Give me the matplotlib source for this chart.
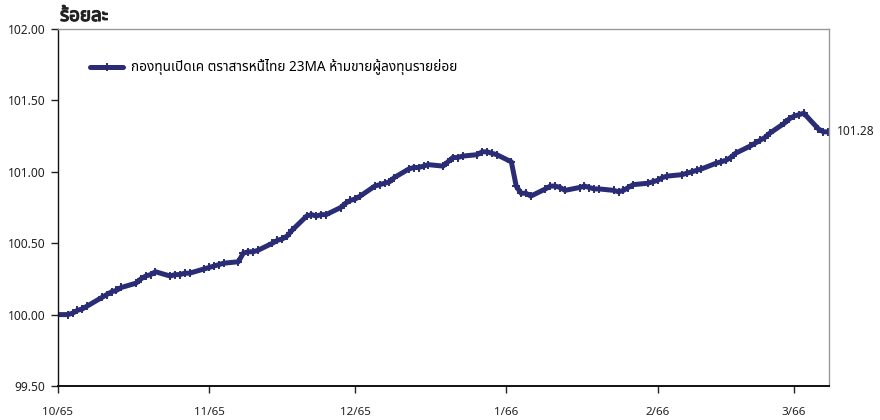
import matplotlib
matplotlib.use("Agg")
import matplotlib.pyplot as plt
import matplotlib.patheffects as pe
from matplotlib import font_manager
from matplotlib.ft2font import FT2Font
import pandas as pd

# ---------------- data ----------------
title_text = "ร้อยละ"
legend_label = "กองทุนเปิดเค ตราสารหนี้ไทย 23MA ห้ามขายผู้ลงทุนรายย่อย"
end_label = "101.28"

sep_vals = [100.00]
oct_vals = [100.00, 100.01, 100.03, 100.04, 100.06,
            100.12, 100.14, 100.16, 100.17, 100.19,
            100.22, 100.25, 100.27, 100.28, 100.30,
            100.27, 100.28, 100.28, 100.29, 100.29,
            100.32]
nov_vals = [100.33, 100.34, 100.35, 100.36,
            100.37, 100.43, 100.44, 100.44, 100.45,
            100.50, 100.52, 100.53, 100.55, 100.59,
            100.69, 100.70, 100.69, 100.70, 100.70,
            100.75, 100.78, 100.80]
dec_vals = [100.81, 100.83,
            100.90, 100.91, 100.92, 100.93, 100.96,
            101.02, 101.03, 101.03, 101.04, 101.05,
            101.04, 101.07, 101.10, 101.10, 101.11,
            101.12, 101.14, 101.14, 101.13, 101.12]
jan_vals = [101.07, 100.90, 100.85, 100.85, 100.83,
            100.88, 100.90, 100.90, 100.89, 100.87,
            100.89, 100.90, 100.89, 100.88, 100.88,
            100.87, 100.86, 100.87, 100.89, 100.91,
            100.92, 100.93]
feb_vals = [100.94, 100.96, 100.97,
            100.98, 100.99, 101.00, 101.01, 101.02,
            101.06, 101.07, 101.08, 101.10, 101.13,
            101.18, 101.20, 101.22, 101.24, 101.27,
            101.34, 101.37]
mar_vals = [101.39, 101.40, 101.41, 101.30, 101.28, 101.28]

month_ranges = [("2022-09-30", "2022-09-30", sep_vals),
                ("2022-10-01", "2022-10-31", oct_vals),
                ("2022-11-01", "2022-11-30", nov_vals),
                ("2022-12-01", "2022-12-31", dec_vals),
                ("2023-01-01", "2023-01-31", jan_vals),
                ("2023-02-01", "2023-02-28", feb_vals),
                ("2023-03-01", "2023-03-08", mar_vals)]

tick_dates = ["2022-10-01", "2022-11-01", "2022-12-01", "2023-01-01", "2023-02-01", "2023-03-01"]
tick_labels = ["10/65", "11/65", "12/65", "1/66", "2/66", "3/66"]
y_ticks = [99.5, 100.0, 100.5, 101.0, 101.5, 102.0]

dates = []
values = []
for s, e, v in month_ranges:
    d = list(pd.bdate_range(s, e))
    assert len(d) == len(v), (s, len(d), len(v))
    dates += d
    values += v

# ---------------- font with Thai glyphs ----------------
def thai_font():
    prefs = ["Tahoma", "Noto Sans Thai", "Noto Sans Thai UI", "Loma", "Garuda", "Sarabun",
             "Norasi", "Kinnari", "Waree", "Umpush", "Laksaman", "Tlwg Typo"]
    found = {}
    for f in font_manager.fontManager.ttflist:
        try:
            cm = FT2Font(f.fname).get_charmap()
            if 0x0E01 in cm and 0x0E49 in cm:
                found.setdefault(f.name, f.fname)
        except Exception:
            pass
    for p in prefs:
        if p in found:
            return p
    if found:
        return sorted(found)[0]
    return None

tf = thai_font()
fam = ([tf] if tf else []) + ["DejaVu Sans"]
plt.rcParams["font.family"] = fam

navy = "#2a2c76"

fig = plt.figure(figsize=(8.8, 4.2), dpi=100)
ax = fig.add_axes([58/880, 34/420, (829-58)/880, (386-29)/420])

ax.plot(dates, values, color=navy, lw=3.6, marker="+", ms=5.5, mew=1.4,
        solid_joinstyle="round", solid_capstyle="round", label=legend_label, clip_on=True)

ax.set_ylim(99.5, 102.0)
ax.set_yticks(y_ticks)
ax.set_yticklabels([f"{t:.2f}" for t in y_ticks])
ax.set_xlim(pd.Timestamp("2022-10-01"), pd.Timestamp("2023-03-08 04:00"))
ax.set_xticks([pd.Timestamp(t) for t in tick_dates])
ax.set_xticklabels(tick_labels)

ax.tick_params(axis="y", direction="out", length=5, width=1, labelsize=8.6, pad=4, colors="#222222")
ax.tick_params(axis="x", direction="out", length=5, width=1, labelsize=8.4, pad=10, colors="#222222")

for s in ["left", "bottom"]:
    ax.spines[s].set_color("#111111")
ax.spines["left"].set_linewidth(1.0)
ax.spines["bottom"].set_linewidth(1.4)
for s in ["top", "right"]:
    ax.spines[s].set_color("#9a9a9a")
    ax.spines[s].set_linewidth(1.0)

leg = ax.legend(loc="upper left", bbox_to_anchor=(0.035, 0.93), frameon=False, fontsize=9.8,
                handlelength=2.4, handletextpad=0.6, numpoints=1, borderaxespad=0)

ax.text(1.01, (101.28 - 99.5) / 2.5, end_label, transform=ax.transAxes, ha="left", va="center",
        fontsize=8.6, color="#222222")
fig.text(60/880, 1 - 16/420, title_text, ha="left", va="center", fontsize=13.5, fontweight="bold",
         color="#222222",
         path_effects=[pe.withStroke(linewidth=0.9, foreground="#222222")])

fig.savefig("out.png", dpi=100)
